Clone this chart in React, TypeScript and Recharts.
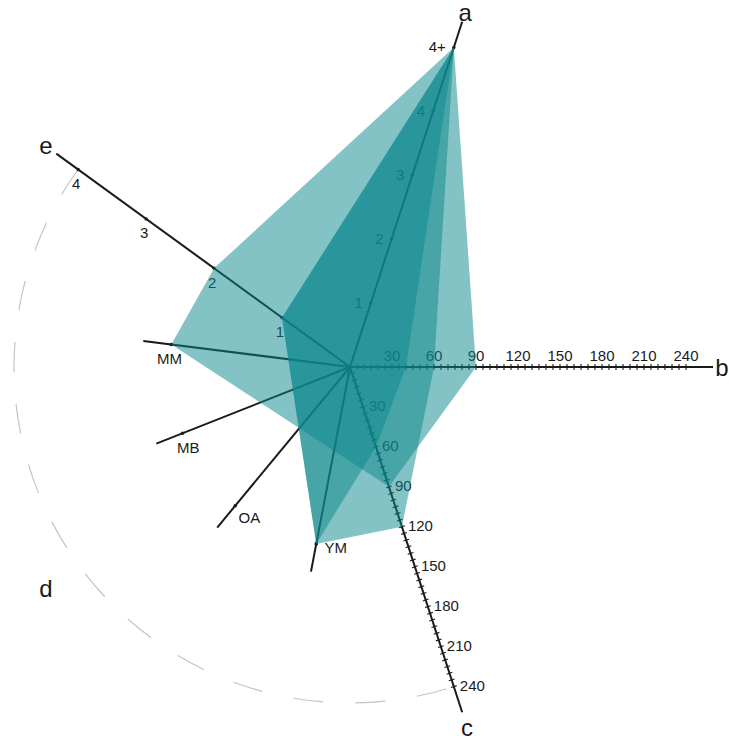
import React from 'react';
import { RadarChart, Radar, PolarAngleAxis, PolarRadiusAxis, Customized } from 'recharts';

// one entry per profile (polygon)
const SERIES_KEYS = ['p1', 'p2', 'p3'];
const A_VALUES = [5, 5, 5]; // 5 is shown as "4+"
const B_VALUES = [90, 60, 40];
const C_VALUES = [90, 120, 60];
const D_VALUES = ['MM', 'YM', 'YM'];
const E_VALUES = [2, 1, 1];

const AXIS_NAMES = ['a', 'b', 'c', 'd', 'e'];
const D_CATEGORIES = ['MM', 'MB', 'OA', 'YM'];

const A_MAX = 5;
const A_TICKS = [1, 2, 3, 4, 5];
const A_TICK_LABELS = ['1', '2', '3', '4', '4+'];
const BC_MAX = 240;
const BC_STEP = 5;
const BC_LABEL_STEP = 30;
const E_MAX = 4;
const E_TICKS = [1, 2, 3, 4];

// layout
const WIDTH = 729;
const HEIGHT = 742;
const CX = 350;
const CY = 367;
const FULL_R = 336; // radius of the axis maximum
const OUTER_R = 363; // axis lines run a bit past it
const EXT = OUTER_R / FULL_R;
const SLOTS = 25; // angular positions, 14.4deg apart
const START_ANGLE = 72;
const AXIS_SLOT: Record<string, number> = { a: 0, b: 5, c: 10, d: 15, e: 20 };
const D_SLOT: Record<string, number> = { YM: 12, OA: 14, MB: 16, MM: 18 };
const D_LEVEL = 0.536; // d categories sit at this share of full scale
const D_END = 0.62;
const NAME_NUDGE: Record<string, number> = { a: -3, b: -4, c: 3, d: 0, e: 0 };

const FILL = '#0a878c';
const INK = '#1a1a1a';
const FONT = '"Liberation Sans", Arial, Helvetica, sans-serif';

const slotAngle = (slot: number) => START_ANGLE - (slot * 360) / SLOTS;
const rad = (deg: number) => (deg * Math.PI) / 180;

const BC_TICKS = Array.from({ length: BC_MAX / BC_STEP }, (_, i) => (i + 1) * BC_STEP);

const polygonRows = SERIES_KEYS.map((_, i) => [
  { pos: AXIS_SLOT.a, v: A_VALUES[i] / A_MAX },
  { pos: AXIS_SLOT.b, v: B_VALUES[i] / BC_MAX },
  { pos: AXIS_SLOT.c, v: C_VALUES[i] / BC_MAX },
  { pos: D_SLOT[D_VALUES[i]], v: D_LEVEL },
  { pos: AXIS_SLOT.e, v: E_VALUES[i] / E_MAX },
]);

const axisRows = AXIS_NAMES.map((n) => ({ pos: AXIS_SLOT[n], v: 0 }));

function tickMark(x: number, y: number, angle: number, half = 3) {
  const px = Math.sin(rad(angle));
  const py = Math.cos(rad(angle));
  return (
    <line x1={x - px * half} y1={y - py * half} x2={x + px * half} y2={y + py * half} stroke={INK} strokeWidth={1.1} />
  );
}

const labelStyle = { fontSize: 15, fill: INK, fontFamily: FONT };

// the axis line spans the tick extent, so every axis also gets an unlabelled tick at 0 and at its end
const only = (vals: number[], fn: (p: any) => React.ReactElement) => (props: any) =>
  vals.includes(props.payload.value) ? fn(props) : <g />;

const renderBTick = ({ x, y, payload }: any) => (
  <g>
    {tickMark(x, y, 0)}
    {payload.value % BC_LABEL_STEP === 0 && (
      <text x={x} y={y - 6} textAnchor="middle" {...labelStyle}>{payload.value}</text>
    )}
  </g>
);

const renderCTick = ({ x, y, payload }: any) => (
  <g>
    {tickMark(x, y, slotAngle(AXIS_SLOT.c))}
    {payload.value % BC_LABEL_STEP === 0 && (
      <text x={x + 6} y={y - 1} textAnchor="start" dominantBaseline="central" {...labelStyle}>{payload.value}</text>
    )}
  </g>
);

const renderATick = ({ x, y, payload }: any) => {
  const idx = A_TICKS.indexOf(payload.value);
  return (
    <g>
      <circle cx={x} cy={y} r={1.7} fill={INK} />
      <text x={x - 8} y={y - 1} textAnchor="end" dominantBaseline="central" {...labelStyle}>{A_TICK_LABELS[idx]}</text>
    </g>
  );
};

const renderETick = ({ x, y, payload }: any) => (
  <g>
    <circle cx={x} cy={y} r={1.7} fill={INK} />
    <text x={x - 2} y={y + 14} textAnchor="middle" dominantBaseline="central" {...labelStyle}>{payload.value}</text>
  </g>
);

const makeSpokeTick = (cat: string) => ({ x, y }: any) => {
  const angle = slotAngle(D_SLOT[cat]);
  const s = Math.sin(rad(angle));
  const c = Math.cos(rad(angle));
  const d = 13 + 7 * Math.abs(s);
  return (
    <g>
      <circle cx={x} cy={y} r={1.8} fill={INK} />
      <text x={x - s * d} y={y - c * d} textAnchor="middle" dominantBaseline="central" {...labelStyle}>{cat}</text>
    </g>
  );
};

const renderName = ({ x, y, payload }: any) => {
  const name = AXIS_NAMES.find((n) => AXIS_SLOT[n] === payload.value);
  if (!name) return <g />;
  const a = rad(slotAngle(AXIS_SLOT[name]));
  const k = NAME_NUDGE[name];
  return (
    <text
      x={x + k * Math.cos(a)}
      y={y - k * Math.sin(a)}
      textAnchor="middle"
      dominantBaseline="central"
      fontSize={24}
      fill={INK}
      fontFamily={FONT}
    >
      {name}
    </text>
  );
};

// dashed guide arc over the d sector, from axis e round to axis c
const DashedArc = () => {
  const a0 = rad(slotAngle(AXIS_SLOT.e));
  const a1 = rad(slotAngle(AXIS_SLOT.c));
  const x0 = CX + FULL_R * Math.cos(a0);
  const y0 = CY - FULL_R * Math.sin(a0);
  const x1 = CX + FULL_R * Math.cos(a1);
  const y1 = CY - FULL_R * Math.sin(a1);
  return (
    <path
      d={`M ${x0} ${y0} A ${FULL_R} ${FULL_R} 0 0 0 ${x1} ${y1}`}
      fill="none"
      stroke="#c4c4c4"
      strokeWidth={1.2}
      strokeDasharray="30 32"
    />
  );
};

const AXES = [
  { id: 'a', angle: slotAngle(AXIS_SLOT.a), max: A_MAX * EXT, ticks: A_TICKS, tick: renderATick },
  { id: 'b', angle: slotAngle(AXIS_SLOT.b), max: BC_MAX * EXT, ticks: BC_TICKS, tick: renderBTick },
  { id: 'c', angle: slotAngle(AXIS_SLOT.c), max: BC_MAX * EXT, ticks: BC_TICKS, tick: renderCTick },
  { id: 'e', angle: slotAngle(AXIS_SLOT.e), max: E_MAX * EXT, ticks: E_TICKS, tick: renderETick },
  ...D_CATEGORIES.map((cat) => ({
    id: `d-${cat}`,
    angle: slotAngle(D_SLOT[cat]),
    max: EXT,
    end: D_END,
    ticks: [D_LEVEL],
    tick: makeSpokeTick(cat),
  })),
];

const chartProps = {
  width: WIDTH,
  height: HEIGHT,
  cx: CX,
  cy: CY,
  outerRadius: OUTER_R,
  startAngle: START_ANGLE,
  endAngle: START_ANGLE - 360,
  margin: { top: 0, right: 0, bottom: 0, left: 0 },
};

const layer: React.CSSProperties = { position: 'absolute', left: 0, top: 0 };

export default function App() {
  return (
    <div style={{ position: 'absolute', left: 0, top: 0, width: WIDTH, height: HEIGHT, background: '#fff' }}>
      {/* axes */}
      <div style={layer}>
        <RadarChart {...chartProps} data={axisRows}>
          <Customized component={<DashedArc />} />
          <PolarAngleAxis
            dataKey="pos"
            type="number"
            domain={[0, SLOTS]}
            ticks={AXIS_NAMES.map((n) => AXIS_SLOT[n])}
            tickLine={false}
            axisLine={false}
            tickSize={13}
            tick={renderName}
          />
          {AXES.map((ax: any) => (
            <PolarRadiusAxis
              key={ax.id}
              radiusAxisId={ax.id}
              type="number"
              angle={ax.angle}
              domain={[0, ax.max]}
              ticks={[0, ...ax.ticks, ax.end ?? ax.max]}
              stroke={INK}
              axisLine={{ strokeWidth: 2 }}
              tick={only(ax.ticks, ax.tick)}
            />
          ))}
          {/* hidden series so each axis gets drawn */}
          {AXES.map((ax) => (
            <Radar key={ax.id} dataKey="v" radiusAxisId={ax.id} fill="none" stroke="none" isAnimationActive={false} />
          ))}
        </RadarChart>
      </div>
      {/* polygons, one layer each */}
      {polygonRows.map((rows, i) => (
        <div key={SERIES_KEYS[i]} style={layer}>
          <RadarChart {...chartProps} data={rows}>
            <PolarAngleAxis dataKey="pos" type="number" domain={[0, SLOTS]} tick={false} tickLine={false} axisLine={false} />
            <PolarRadiusAxis type="number" domain={[0, EXT]} tick={false} axisLine={false} />
            <Radar dataKey="v" name={SERIES_KEYS[i]} fill={FILL} fillOpacity={0.5} stroke="none" isAnimationActive={false} />
          </RadarChart>
        </div>
      ))}
    </div>
  );
}
